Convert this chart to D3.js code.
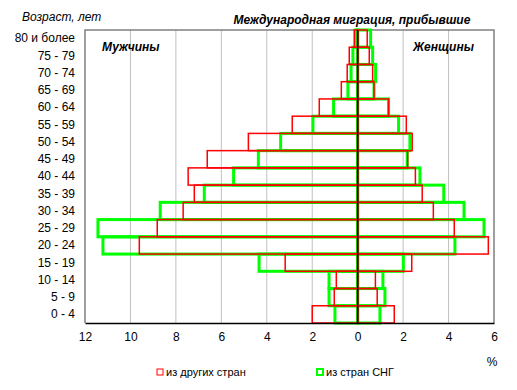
<!DOCTYPE html>
<html>
<head>
<meta charset="utf-8">
<script src="https://cdn.jsdelivr.net/npm/d3@7"></script>
<style>
  body { margin: 0; background: #fff; }
  text { font-family: "Liberation Sans", Arial, sans-serif; fill: #000; }
</style>
</head>
<body>
<div id="chart"></div>
<script>
var svgWidth = 517;
var svgHeight = 390;

// age groups, bottom to top
var ageGroups = ["0 - 4", "5 - 9", "10 - 14", "15 - 19", "20 - 24", "25 - 29", "30 - 34", "35 - 39",
  "40 - 44", "45 - 49", "50 - 54", "55 - 59", "60 - 64", "65 - 69", "70 - 74", "75 - 79", "80 и более"];

// men (drawn to the left), %
var menOther = [2.00, 1.03, 0.94, 3.19, 9.61, 8.82, 7.68, 7.19, 7.46, 6.62, 4.81, 2.88, 1.69, 0.72, 0.46, 0.37, 0.15];
var menCis = [1.00, 1.26, 1.26, 4.34, 11.21, 11.43, 8.69, 6.75, 5.46, 4.37, 3.39, 1.97, 1.06, 0.43, 0.29, 0.21, 0.10];
// women (drawn to the right), %
var womenOther = [1.61, 0.86, 0.78, 2.38, 5.75, 4.25, 3.33, 2.84, 2.54, 2.20, 2.40, 2.14, 1.36, 0.72, 0.66, 0.51, 0.42];
var womenCis = [0.98, 1.20, 1.11, 2.01, 4.28, 5.56, 4.68, 3.79, 2.74, 2.18, 2.30, 1.80, 1.36, 0.72, 0.79, 0.66, 0.57];

var xTicks = [-12, -10, -8, -6, -4, -2, 0, 2, 4, 6];

var plot = { left: 85, right: 494, top: 30, bottom: 323 };

var svg = d3.select("#chart")
  .append("svg")
  .attr("width", svgWidth)
  .attr("height", svgHeight);

var x = d3.scaleLinear().domain([-12, 6]).range([plot.left, plot.right]);
var y = d3.scaleBand().domain(ageGroups.slice().reverse()).range([plot.top, plot.bottom]).padding(0);

// gridlines
svg.append("g")
  .selectAll("line")
  .data(xTicks.filter(d => d !== 0 && d !== -12 && d !== 6))
  .enter().append("line")
  .attr("x1", d => x(d)).attr("x2", d => x(d))
  .attr("y1", plot.top).attr("y2", plot.bottom)
  .attr("stroke", "#c0c0c0").attr("stroke-width", 1);

// plot frame
svg.append("path")
  .attr("d", `M${plot.left},${plot.bottom}V${plot.top}H${plot.right}V${plot.bottom}`)
  .attr("fill", "none").attr("stroke", "#808080").attr("stroke-width", 1.5);

function drawSeries(men, women, color, width) {
  var g = svg.append("g");
  var rows = ageGroups.map((a, i) => ({ age: a, m: men[i], w: women[i] }));
  g.selectAll("rect.m").data(rows).enter().append("rect")
    .attr("x", d => x(-d.m))
    .attr("y", d => y(d.age))
    .attr("width", d => x(0) - x(-d.m))
    .attr("height", y.bandwidth())
    .attr("fill", "none").attr("stroke", color).attr("stroke-width", width);
  g.selectAll("rect.w").data(rows).enter().append("rect")
    .attr("x", x(0))
    .attr("y", d => y(d.age))
    .attr("width", d => x(d.w) - x(0))
    .attr("height", y.bandwidth())
    .attr("fill", "none").attr("stroke", color).attr("stroke-width", width);
}

drawSeries(menCis, womenCis, "#00ff00", 3);
drawSeries(menOther, womenOther, "#ff0000", 1.5);

// center line
svg.append("line")
  .attr("x1", x(0)).attr("x2", x(0))
  .attr("y1", plot.top).attr("y2", plot.bottom)
  .attr("stroke", "#000").attr("stroke-width", 1.5);

// x axis
var xAxis = d3.axisBottom(x).tickValues(xTicks).tickSize(0).tickPadding(9)
  .tickFormat(d => Math.abs(d));
var xg = svg.append("g")
  .attr("transform", `translate(0, ${plot.bottom})`)
  .call(xAxis);
xg.select(".domain").attr("stroke", "#000").attr("stroke-width", 1.5);
xg.selectAll("text").style("font-size", "12px").style("font-family", "Liberation Sans, Arial, sans-serif");

// y labels
var yAxis = d3.axisLeft(y).tickSize(0).tickPadding(10);
var yg = svg.append("g")
  .attr("transform", `translate(${plot.left}, 0)`)
  .call(yAxis);
yg.select(".domain").remove();
yg.selectAll("text").style("font-size", "12px").style("font-family", "Liberation Sans, Arial, sans-serif");

// titles
svg.append("text")
  .attr("x", 22).attr("y", 21)
  .style("font-size", "12px").style("font-style", "italic")
  .text("Возраст, лет");

svg.append("text")
  .attr("x", 352).attr("y", 24)
  .attr("text-anchor", "middle")
  .style("font-size", "12px").style("font-style", "italic").style("font-weight", "bold")
  .text("Международная миграция, прибывшие");

svg.append("text")
  .attr("x", 102).attr("y", 51)
  .style("font-size", "12px").style("font-style", "italic").style("font-weight", "bold")
  .text("Мужчины");

svg.append("text")
  .attr("x", 413).attr("y", 51)
  .style("font-size", "12px").style("font-style", "italic").style("font-weight", "bold")
  .text("Женщины");

svg.append("text")
  .attr("x", 492).attr("y", 366)
  .attr("text-anchor", "middle")
  .style("font-size", "12px")
  .text("%");

// legend
var legendItems = [
  { label: "из других стран", color: "#ff0000", width: 1, x: 157 },
  { label: "из стран СНГ", color: "#00ff00", width: 2, x: 317 }
];
var lg = svg.selectAll("g.legend").data(legendItems).enter().append("g")
  .attr("transform", d => `translate(${d.x}, 369)`);
lg.append("rect")
  .attr("width", 6).attr("height", 6)
  .attr("fill", "#fff")
  .attr("stroke", d => d.color).attr("stroke-width", d => d.width);
lg.append("text")
  .attr("x", 9).attr("y", 7)
  .style("font-size", "11px")
  .text(d => d.label);
</script>
</body>
</html>
